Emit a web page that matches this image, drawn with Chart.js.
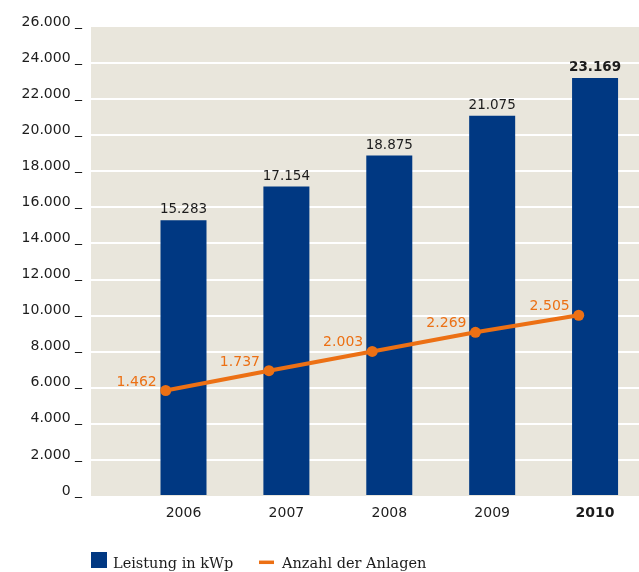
<!DOCTYPE html>
<html>
<head>
<meta charset="utf-8">
<script src="https://cdn.jsdelivr.net/npm/chart.js@4/dist/chart.umd.min.js"></script>
<style>
  html, body { margin: 0; padding: 0; background: #ffffff; }
  #wrap { width: 639px; height: 572px; position: relative; }
</style>
</head>
<body>
<div id="wrap"><canvas id="c" width="639" height="572"></canvas></div>
<script>
// ---- data ----
const years = [2006, 2007, 2008, 2009, 2010];
const leistung = [15283, 17154, 18875, 21075, 23169];   // Leistung in kWp
const anlagen = [1462, 1737, 2003, 2269, 2505];         // Anzahl der Anlagen
const yTickStep = 2000;
const yMax = 26000;
const seriesLabels = ['Leistung in kWp', 'Anzahl der Anlagen'];
const highlightYear = 2010;

// ---- styles ----
const BLUE = '#003882';
const ORANGE = '#ec7014';
const BG = '#e9e6dc';
const TXT = '#1c1c1c';
const SANS = '"DejaVu Sans", Verdana, sans-serif';
const SERIF = '"DejaVu Serif", "Liberation Serif", serif';

function fmt(v) {
  const s = String(Math.round(v));
  return s.replace(/\B(?=(\d{3})+(?!\d))/g, '.');
}

const plugin = {
  id: 'custom',
  beforeDraw(chart) {
    const a = chart.chartArea, ctx = chart.ctx;
    ctx.save();
    ctx.fillStyle = BG;
    ctx.fillRect(a.left, a.top, a.right - a.left, a.bottom - a.top);
    ctx.restore();
  },
  afterDatasetsDraw(chart) {
    const ctx = chart.ctx;
    ctx.save();
    // value labels above bars
    const mb = chart.getDatasetMeta(0);
    mb.data.forEach((el, i) => {
      ctx.font = (years[i] === highlightYear ? 'bold ' : '') + '13.5px ' + SANS;
      ctx.fillStyle = TXT;
      ctx.textAlign = 'center';
      ctx.textBaseline = 'alphabetic';
      ctx.fillText(fmt(leistung[i]), el.x, el.y - 7);
    });
    // value labels for line points
    const ml = chart.getDatasetMeta(1);
    ml.data.forEach((el, i) => {
      ctx.font = '14px ' + SANS;
      ctx.fillStyle = ORANGE;
      ctx.textAlign = 'right';
      ctx.textBaseline = 'alphabetic';
      ctx.fillText(fmt(anlagen[i]), el.x - 9, el.y - 5);
    });
    ctx.restore();
  },
  afterDraw(chart) {
    const ctx = chart.ctx;
    ctx.save();
    // legend
    ctx.fillStyle = BLUE;
    ctx.fillRect(91, 552, 16, 16);
    ctx.font = '14.5px ' + SERIF;
    ctx.fillStyle = TXT;
    ctx.textAlign = 'left';
    ctx.textBaseline = 'alphabetic';
    ctx.fillText(seriesLabels[0], 113, 568);
    ctx.strokeStyle = ORANGE;
    ctx.lineWidth = 3.5;
    ctx.beginPath();
    ctx.moveTo(259, 562.3);
    ctx.lineTo(274, 562.3);
    ctx.stroke();
    ctx.fillText(seriesLabels[1], 282, 568);
    ctx.restore();
  }
};

new Chart(document.getElementById('c'), {
  data: {
    datasets: [
      {
        type: 'bar',
        label: seriesLabels[0],
        data: years.map((y, i) => ({ x: y, y: leistung[i] })),
        backgroundColor: BLUE,
        borderWidth: 0,
        grouped: false,
        barPercentage: 0.9,
        categoryPercentage: 0.9,
        maxBarThickness: 46,
        xAxisID: 'x',
        yAxisID: 'y',
        order: 1
      },
      {
        type: 'line',
        label: seriesLabels[1],
        data: years.map((y, i) => ({ x: y, y: anlagen[i] })),
        borderColor: ORANGE,
        backgroundColor: ORANGE,
        borderWidth: 4,
        pointRadius: 5.5,
        pointBackgroundColor: ORANGE,
        pointBorderWidth: 0,
        tension: 0,
        xAxisID: 'x2',
        yAxisID: 'y2',
        order: 0
      }
    ]
  },
  options: {
    responsive: false,
    animation: false,
    devicePixelRatio: 1,
    layout: { autoPadding: false, padding: { top: 27, right: 0, left: 0, bottom: 0 } },
    plugins: {
      legend: { display: false },
      tooltip: { enabled: false }
    },
    scales: {
      x: {
        type: 'linear',
        offset: false,
        min: 2005.101,
        max: 2010.427,
        afterBuildTicks(scale) { scale.ticks = years.map(v => ({ value: v })); },
        afterFit(scale) { scale.height = 76; scale.paddingRight = 0; scale.paddingLeft = 0; },
        grid: { display: false, drawTicks: false },
        border: { display: false },
        ticks: {
          padding: 9,
          color: TXT,
          autoSkip: false,
          maxRotation: 0,
          callback: (v) => String(v),
          font: (ctx) => ({ family: SANS, size: 14, weight: (ctx.tick && ctx.tick.value === highlightYear) ? 'bold' : 'normal' })
        }
      },
      x2: {
        type: 'linear',
        offset: false,
        display: false,
        min: 2005.2765,
        max: 2010.584
      },
      y: {
        min: 0,
        max: yMax,
        afterFit(scale) { scale.width = 91; },
        grid: {
          drawTicks: false,
          lineWidth: 2,
          color: (ctx) => (ctx.tick && (ctx.tick.value === 0 || ctx.tick.value === yMax)) ? 'rgba(0,0,0,0)' : '#ffffff'
        },
        border: { display: false },
        ticks: {
          stepSize: yTickStep,
          padding: 9,
          labelOffset: -5,
          color: TXT,
          font: { family: SANS, size: 14 },
          callback: (v) => fmt(v) + ' _'
        }
      },
      y2: {
        display: false,
        min: 0,
        max: yMax / 4
      }
    }
  },
  plugins: [plugin]
});
</script>
</body>
</html>
